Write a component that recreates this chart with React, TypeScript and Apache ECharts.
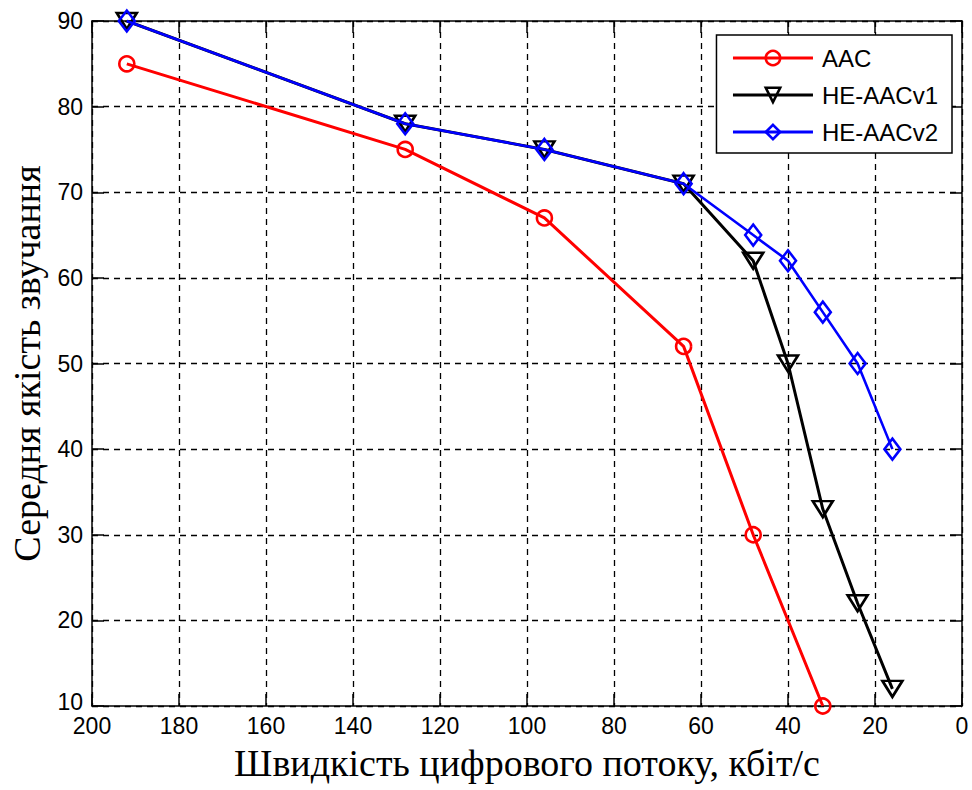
import React, { useEffect, useRef } from "react";
import * as echarts from "echarts";

const seriesNames = ["AAC", "HE-AACv1", "HE-AACv2"];
const aacX = [192, 128, 96, 64, 48, 32];
const aacY = [85, 75, 67, 52, 30, 10];
const v1X = [192, 128, 96, 64, 48, 40, 32, 24, 16];
const v1Y = [90, 78, 75, 71, 62, 50, 33, 22, 12];
const v2X = [192, 128, 96, 64, 48, 40, 32, 24, 16];
const v2Y = [90, 78, 75, 71, 65, 62, 56, 50, 40];

const xName = "Швидкість цифрового потоку, кбіт/с";
const yName = "Середня якість звучання";

export default function App() {
  const ref = useRef<HTMLDivElement>(null);
  useEffect(() => {
    if (!ref.current) return;
    const chart = echarts.init(ref.current, undefined, { renderer: "svg" });
    const zip = (xs: number[], ys: number[]) => xs.map((x, i) => [x, ys[i]]);
    const colors = ["#ff0000", "#000000", "#0000ff"];
    const symbols = ["circle", "triangle", "diamond"];
    const rot = [0, 180, 0];
    const sizes: any[] = [15, [20, 16], [16, 21]];
    const widths = [3, 3, 2.6];
    const datas = [zip(aacX, aacY), zip(v1X, v1Y), zip(v2X, v2Y)];
    const sans = "Liberation Sans, Arial";
    const serif = "Liberation Serif, Times New Roman";
    const baseX = {
      type: "value" as const,
      min: 0,
      max: 200,
      interval: 20,
      inverse: true,
      axisLine: { show: true, onZero: false, lineStyle: { color: "#000", width: 1.5 } },
      axisTick: { show: true, inside: true, length: 12, lineStyle: { color: "#000", width: 1.5 } },
    };
    const baseY = {
      type: "value" as const,
      min: 10,
      max: 90,
      interval: 10,
      axisLine: { show: true, onZero: false, lineStyle: { color: "#000", width: 1.5 } },
      axisTick: { show: true, inside: true, length: 12, lineStyle: { color: "#000", width: 1.5 } },
    };
    chart.setOption({
      animation: false,
      backgroundColor: "#fff",
      grid: { left: 92, right: 10, top: 21, bottom: 84, containLabel: false },
      legend: {
        right: 20,
        top: 35,
        orient: "vertical",
        backgroundColor: "#fff",
        borderColor: "#000",
        borderWidth: 1.5,
        borderRadius: 0,
        padding: [11, 14, 9, 15],
        itemGap: 13,
        itemWidth: 80,
        itemHeight: 18,
        lineStyle: { width: 3 },
        itemStyle: { borderWidth: 2.6 },
        textStyle: { fontFamily: sans, fontSize: 24, color: "#000", padding: [0, 0, 0, 4] },
        data: seriesNames,
      },
      xAxis: [
        {
          ...baseX,
          position: "bottom",
          name: xName,
          nameLocation: "middle",
          nameGap: 38,
          nameTextStyle: { fontFamily: serif, fontSize: 38, color: "#000" },
          axisLabel: { fontFamily: sans, fontSize: 23, lineHeight: 23, color: "#000", margin: 8 },
          splitLine: { show: true, lineStyle: { color: "#000", type: [6, 5], width: 1.3 } },
        },
        {
          ...baseX,
          position: "top",
          axisLabel: { show: false },
          splitLine: { show: false },
        },
      ],
      yAxis: [
        {
          ...baseY,
          position: "left",
          name: yName,
          nameLocation: "middle",
          nameGap: 46,
          nameTextStyle: { fontFamily: serif, fontSize: 38, color: "#000" },
          axisLabel: {
            fontFamily: sans,
            fontSize: 23,
            lineHeight: 23,
            color: "#000",
            margin: 9,
            formatter: (v: number) => (v === 10 ? "{lo|" + v + "}" : String(v)),
            rich: { lo: { fontFamily: sans, fontSize: 23, color: "#000", padding: [0, 0, 8, 0] } },
          },
          splitLine: { show: true, lineStyle: { color: "#000", type: [6, 5], width: 1.3 } },
        },
        {
          ...baseY,
          position: "right",
          axisLabel: { show: false },
          splitLine: { show: false },
        },
      ],
      series: seriesNames.map((name, i) => ({
        name,
        type: "line",
        xAxisIndex: 0,
        yAxisIndex: 0,
        data: datas[i],
        symbol: symbols[i],
        symbolSize: sizes[i],
        symbolRotate: rot[i],
        showAllSymbol: true,
        lineStyle: { color: colors[i], width: widths[i] },
        itemStyle: { color: "rgba(255,255,255,0)", borderColor: colors[i], borderWidth: 2.6 },
        z: 2 + i,
      })),
    });
    return () => chart.dispose();
  }, []);
  return (
    <div
      ref={ref}
      style={{ position: "fixed", left: 0, top: 0, width: 972, height: 790 }}
    />
  );
}
